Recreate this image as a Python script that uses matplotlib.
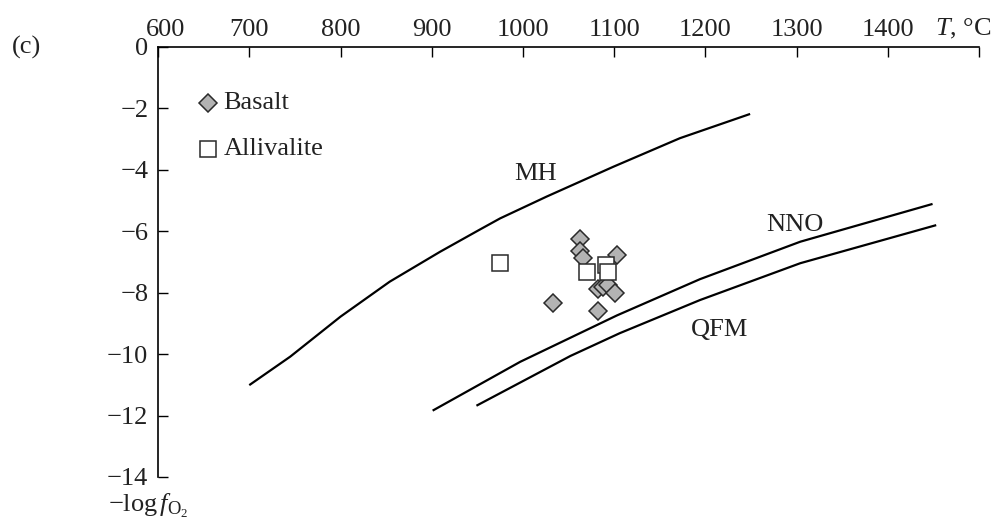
import matplotlib
matplotlib.use("Agg")
import matplotlib.pyplot as plt
import matplotlib.transforms as mtransforms

plt.rcParams['font.family'] = ['Liberation Serif', 'DejaVu Serif']
plt.rcParams['mathtext.fontset'] = 'custom'
plt.rcParams['mathtext.rm'] = 'Liberation Serif'
plt.rcParams['mathtext.it'] = 'Liberation Serif:italic'
plt.rcParams['axes.unicode_minus'] = True

# Oxygen buffer curves (T in °C, log fO2)
mh_t = [700, 745, 800, 854, 909, 953, 975, 1026, 1099, 1172, 1249]
mh_v = [-11.01, -10.08, -8.78, -7.64, -6.67, -5.94, -5.58, -4.87, -3.90, -2.97, -2.18]

nno_t = [901, 997, 1103, 1194, 1304, 1449]
nno_v = [-11.84, -10.25, -8.74, -7.56, -6.34, -5.11]

qfm_t = [949, 1052, 1106, 1194, 1304, 1453]
qfm_v = [-11.68, -10.06, -9.32, -8.24, -7.04, -5.80]

# Samples
basalt_t = [1062, 1062, 1066, 1103, 1033, 1082, 1082, 1088, 1093, 1101]
basalt_v = [-6.25, -6.64, -6.87, -6.77, -8.34, -8.60, -7.88, -7.81, -7.75, -8.01]

alliv_t = [975, 1070, 1091, 1093]
alliv_v = [-7.03, -7.33, -7.10, -7.33]

x_ticks = [600, 700, 800, 900, 1000, 1100, 1200, 1300, 1400, 1500]
x_labels = ['600', '700', '800', '900', '1000', '1100', '1200', '1300', '1400', '']
y_ticks = [0, -2, -4, -6, -8, -10, -12, -14]

FS = 19
GRAY = '#b3b3b3'
EDGE = '#2a2a2a'
INK = '#222222'

fig = plt.figure(figsize=(9.94, 5.21), dpi=100)
ax = fig.add_axes([0.159, 0.0845, 0.826, 0.8253])

for t, v in ((mh_t, mh_v), (nno_t, nno_v), (qfm_t, qfm_v)):
    ax.plot(t, v, color='black', lw=1.6, solid_capstyle='butt', solid_joinstyle='round')

ax.plot(basalt_t, basalt_v, linestyle='none', marker='D', markersize=9.2,
        markerfacecolor=GRAY, markeredgecolor=EDGE, markeredgewidth=1.1, zorder=3)
ax.plot(alliv_t, alliv_v, linestyle='none', marker='s', markersize=12,
        markerfacecolor='white', markeredgecolor=EDGE, markeredgewidth=1.1, zorder=4)

# Buffer labels
ax.text(1014, -4.33, 'MH', fontsize=FS, ha='center', va='baseline', color=INK)
ax.text(1298, -5.98, 'NNO', fontsize=FS, ha='center', va='baseline', color=INK)
ax.text(1215, -9.41, 'QFM', fontsize=FS, ha='center', va='baseline', color=INK)

# Key
ax.plot([0.0605], [0.8705], transform=ax.transAxes, marker='D', markersize=9.2,
        markerfacecolor=GRAY, markeredgecolor=EDGE, markeredgewidth=1.1, clip_on=False)
ax.text(0.0795, 0.8705, 'Basalt', transform=ax.transAxes, fontsize=FS,
        ha='left', va='center', color=INK)
ax.plot([0.0605], [0.762], transform=ax.transAxes, marker='s', markersize=11,
        markerfacecolor='white', markeredgecolor=EDGE, markeredgewidth=1.1, clip_on=False)
ax.text(0.0795, 0.762, 'Allivalite', transform=ax.transAxes, fontsize=FS,
        ha='left', va='center', color=INK)

ax.set_xlim(600, 1500)
ax.set_ylim(-14, 0)
ax.xaxis.tick_top()
ax.set_xticks(x_ticks)
ax.set_xticklabels(x_labels)
ax.set_yticks(y_ticks)
ax.set_yticklabels([('\u2212%d' % -v) if v else '0' for v in y_ticks])

ax.tick_params(axis='x', direction='in', length=7, width=1.0, pad=4.5,
               labelsize=FS, labelcolor=INK)
ax.tick_params(axis='y', direction='in', length=7, width=1.0, pad=7,
               labelsize=FS, labelcolor=INK)

for side in ('right', 'bottom'):
    ax.spines[side].set_visible(False)
for side in ('left', 'top'):
    ax.spines[side].set_linewidth(1.2)

# nudge the first temperature label clear of the zero
lab600 = ax.get_xticklabels()[0]
lab600.set_transform(lab600.get_transform() +
                     mtransforms.ScaledTranslation(8 / 100, 0, fig.dpi_scale_trans))

fig.text(0.9406, 0.9328, '$T$, °C', fontsize=FS, ha='left', va='baseline', color=INK)
fig.text(0.012, 0.898, '(c)', fontsize=FS, ha='left', va='baseline', color=INK)
fig.text(0.109, 0.0175, r'$\mathrm{-log}\,f_{\mathrm{O}_2}$', fontsize=FS,
         ha='left', va='baseline', color=INK)

fig.savefig('out.png', dpi=100)
